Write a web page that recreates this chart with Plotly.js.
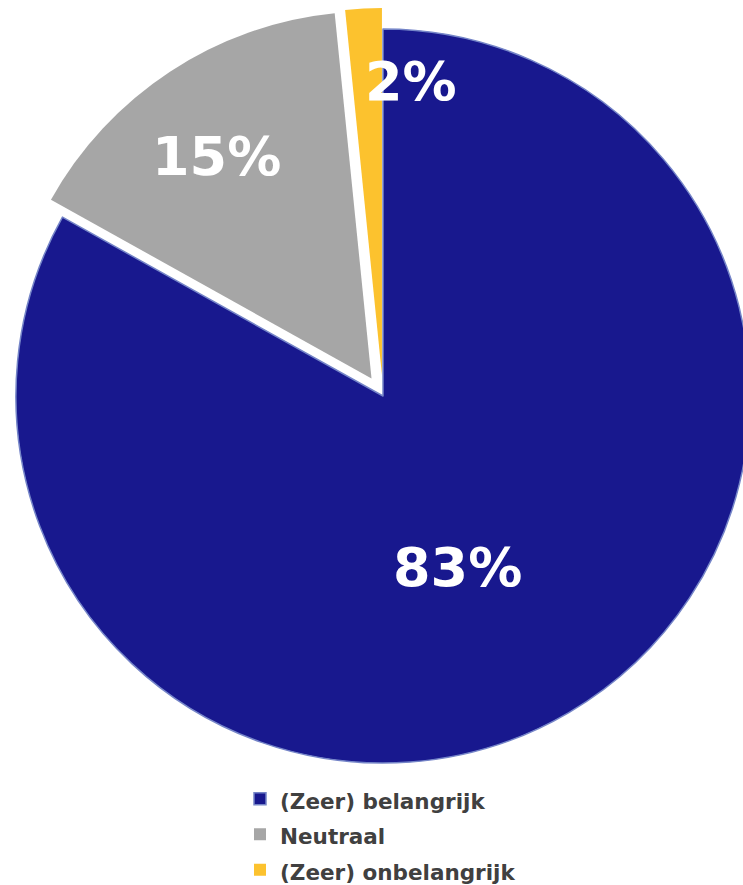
<!DOCTYPE html>
<html>
<head>
<meta charset="utf-8">
<script src="https://cdn.plot.ly/plotly-3.0.1.min.js"></script>
<style>
  html, body { margin: 0; padding: 0; width: 743px; height: 885px; overflow: hidden; background: #ffffff; }
  #chart { position: absolute; left: -10px; top: 0; width: 790px; height: 885px; }
</style>
</head>
<body>
<div id="chart"></div>
<script>
// Data
const categories = ['(Zeer) belangrijk', 'Neutraal', '(Zeer) onbelangrijk'];
const shares = [83.1, 15.3, 1.6];
const shownPercents = [83, 15, 2];
const sliceColors = ['#18188e', '#a6a6a6', '#fcc22e'];
const pulls = [0, 0.057, 0.057];

const W = 790, H = 885, SHIFT = 10;
const px = (x) => (x + SHIFT) / W;
const py = (y) => 1 - y / H;

// label anchor points (page pixels)
const labelPos = [[457, 567], [217, 157], [411, 81]];

const legendLabels = categories.map(c => '<span style="font-size:21.5px">' + c + '</span>');

const trace = {
  type: 'pie',
  labels: legendLabels,
  values: shares,
  sort: false,
  direction: 'clockwise',
  rotation: 0,
  pull: pulls,
  textinfo: 'none',
  hoverinfo: 'label+percent',
  marker: {
    colors: sliceColors,
    line: { color: ['#7585c8', '#ffffff', '#ffffff'], width: [1.5, 0, 0] }
  },
  domain: { x: [px(383 - 388), px(383 + 388)], y: [py(784), py(8)] }
};

const annotations = shownPercents.map((v, i) => ({
  text: v + '%',
  xref: 'paper', yref: 'paper',
  x: px(labelPos[i][0]), y: py(labelPos[i][1]),
  xanchor: 'center', yanchor: 'middle',
  showarrow: false,
  font: { family: 'DejaVu Sans', size: 54, color: '#ffffff', weight: 'bold' }
}));

const layout = {
  width: W, height: H,
  margin: { l: 0, r: 0, t: 0, b: 0, autoexpand: false },
  paper_bgcolor: '#ffffff',
  showlegend: true,
  legend: {
    x: px(240), y: py(776), xanchor: 'left', yanchor: 'top',
    font: { family: 'DejaVu Sans', size: 25, color: '#404040', weight: 'bold' },
    bgcolor: 'rgba(0,0,0,0)', borderwidth: 0
  },
  annotations: annotations
};

Plotly.newPlot('chart', [trace], layout, { displayModeBar: false, staticPlot: true });
</script>
</body>
</html>
